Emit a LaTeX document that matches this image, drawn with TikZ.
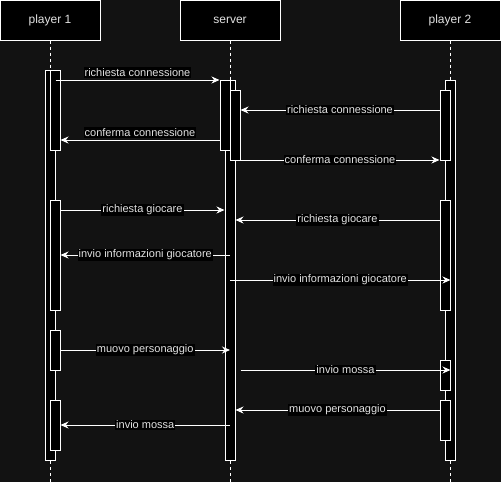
\documentclass[tikz,border=0pt]{standalone}
\usepackage{fontspec}
\setmainfont{Liberation Sans}
\usepackage{tikz}
\usetikzlibrary{arrows.meta}
\definecolor{bgc}{HTML}{121212}
\definecolor{txt}{HTML}{E2E2E2}

\begin{document}
\begin{tikzpicture}[x=1pt, y=-1pt, line width=1pt,
  head/.style={draw=white, fill=black, text=txt, minimum width=100pt, minimum height=40pt, inner sep=0pt, font=\fontsize{12}{14}\selectfont},
  bar/.style={draw=white, fill=black, minimum width=10pt, inner sep=0pt, anchor=north},
  life/.style={draw=white, dash pattern=on 3pt off 3pt},
  msg/.style={draw=white, -{Stealth[length=8pt,width=7pt]}},
  lbl/.style={fill=black, text=txt, inner sep=1pt, font=\fontsize{11}{13}\selectfont}]
  \useasboundingbox (0,0) rectangle (501,482);
  \fill[bgc] (0,0) rectangle (501,482);

  % headers
  \node[head] (p1) at (50,20) {player 1};
  \node[head] (srv) at (230,20) {server};
  \node[head] (p2) at (450,20) {player 2};

  \coordinate (p1end) at (50,482);
  \coordinate (srvend) at (230,482);
  \coordinate (p2end) at (450,482);

  % activation bars
  \node[bar, minimum height=390pt] (p1main) at (50,70) {};
  \node[bar, minimum height=380pt] (smain) at (230,80) {};
  \node[bar, minimum height=380pt] (p2main) at (450,80) {};

  \node[bar, minimum height=80pt] (a1) at (55,70) {};
  \node[bar, minimum height=110pt] (a2) at (55,200) {};
  \node[bar, minimum height=40pt] (a3) at (55,330) {};
  \node[bar, minimum height=50pt] (a4) at (55,400) {};

  \node[bar, minimum height=70pt] (s1) at (225,80) {};
  \node[bar, minimum height=70pt] (s2) at (235,90) {};

  \node[bar, minimum height=70pt] (q1) at (445,90) {};
  \node[bar, minimum height=110pt] (q2) at (445,200) {};
  \node[bar, minimum height=30pt] (q3) at (445,360) {};
  \node[bar, minimum height=40pt] (q4) at (445,400) {};

  % lifelines
  \draw[life] (p1) -- (p1main);
  \draw[life] (srv) -- (smain);
  \draw[life] (p2) -- (p2main);
  \draw[life] (p1main) -- (p1end);
  \draw[life] (smain) -- (srvend);
  \draw[life] (p2main) -- (p2end);

  % messages
  \draw[msg] (p1main.east |- 0,80) -- node[lbl, above=2pt] {richiesta connessione} (s1.west |- 0,80);
  \draw[msg] (q1.west |- 0,110) -- node[lbl] {richiesta connessione} (s2.east |- 0,110);
  \draw[msg] (s1.west |- 0,140) -- node[lbl, above=2pt] {conferma connessione} (a1.east |- 0,140);
  \draw[msg] (s2.east |- 0,160) -- node[lbl] {conferma connessione} (q1.west |- 0,160);

  \draw[msg] (a2.east |- 0,210) -- node[lbl] {richiesta giocare} (smain.west |- 0,210);
  \draw[msg] (q2.west |- 0,220) -- node[lbl] {richiesta giocare} (smain.east |- 0,220);
  \draw[msg] (smain |- 0,255) -- node[lbl] {invio informazioni giocatore} (a2.east |- 0,255);
  \draw[msg] (smain |- 0,280) -- node[lbl] {invio informazioni giocatore} (q2.east |- 0,280);

  \draw[msg] (a3.east |- 0,350) -- node[lbl] {muovo personaggio} (smain |- 0,350);
  \draw[msg] (s2.east |- 0,370) -- node[lbl] {invio mossa} (q3.east |- 0,370);
  \draw[msg] (q4.west |- 0,410) -- node[lbl] {muovo personaggio} (smain.east |- 0,410);
  \draw[msg] (smain |- 0,425) -- node[lbl] {invio mossa} (a4.east |- 0,425);
\end{tikzpicture}
\end{document}
